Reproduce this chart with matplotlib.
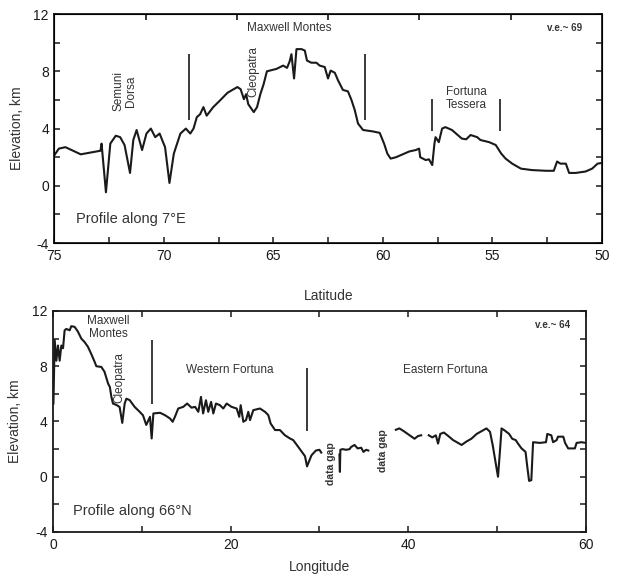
import numpy as np
import matplotlib.pyplot as plt
from matplotlib.ticker import MultipleLocator

plt.rcParams['font.family'] = ['Liberation Sans', 'DejaVu Sans']
plt.rcParams['axes.unicode_minus'] = False

# Profile along 7 E (latitude, elevation in km)
lat_7e = [75.0, 74.8, 74.5, 73.8, 72.9, 72.85, 72.65, 72.45, 72.2, 72.0, 71.8, 71.55,
          71.4, 71.25, 71.0, 70.8, 70.6, 70.4, 70.2, 69.95, 69.75, 69.55, 69.25, 69.0,
          68.8, 68.65, 68.5, 68.35, 68.2, 68.05, 67.75, 67.45, 67.1, 66.65, 66.5, 66.35,
          66.25, 66.15, 65.9, 65.75, 65.6, 65.45, 65.3, 65.17, 64.86, 64.56, 64.38, 64.26,
          64.18, 64.06, 63.95, 63.72, 63.57, 63.47, 63.27, 63.04, 62.89, 62.66, 62.51,
          62.39, 62.2, 62.05, 61.83, 61.6, 61.44, 61.29, 61.14, 60.91, 60.46, 60.15,
          59.95, 59.8, 59.65,
          59.4, 59.1, 58.8, 58.5, 58.35, 58.3, 58.05, 57.9, 57.75, 57.65, 57.6, 57.45,
          57.3, 57.15, 56.85, 56.4, 56.2, 56.0, 55.7, 55.55, 55.15, 54.85, 54.6, 54.4,
          54.1, 53.7, 53.2, 52.55, 52.2, 52.05, 51.9, 51.65, 51.5, 51.2, 50.75, 50.45,
          50.2, 50.0]
elev_7e = [2.15, 2.6, 2.7, 2.2, 2.45, 2.95, -0.45, 2.95, 3.5, 3.4, 2.85, 0.9,
           3.2, 3.9, 2.5, 3.65, 4.0, 3.4, 3.65, 2.7, 0.2, 2.25, 3.65, 4.0,
           3.65, 4.0, 4.8, 5.0, 5.5, 4.9, 5.5, 5.95, 6.5, 6.9, 6.75, 6.05,
           6.4, 5.7, 5.15, 5.5, 6.4, 7.1, 8.0, 8.05, 8.17, 8.4, 8.24, 8.7,
           9.2, 7.5, 9.55, 9.55, 9.45, 8.75, 8.6, 8.6, 8.4, 8.3, 7.5,
           8.05, 7.9, 7.36, 6.7, 6.6, 6.0, 5.3, 4.35, 3.9, 3.8, 3.7,
           2.95, 2.25, 1.9,
           2.0, 2.2, 2.4, 2.5, 2.6, 2.0, 1.8, 1.85, 1.45, 2.95, 3.4, 3.05,
           4.0, 4.1, 3.9, 3.3, 3.25, 3.55, 3.4, 3.2, 3.05, 2.85, 2.25, 1.9,
           1.55, 1.2, 1.1, 1.05, 1.05, 1.7, 1.55, 1.55, 0.9, 0.9, 1.0, 1.2,
           1.55, 1.6]

# Profile along 66 N (longitude, elevation in km), split by data gaps
lon_w = [0.05, 0.19, 0.38, 0.56, 0.75, 0.94, 1.13, 1.31, 1.5, 1.88, 2.06, 2.44, 2.81,
         3.19, 3.56, 3.94, 4.3, 4.7, 4.88, 5.44, 5.8, 6.2, 6.4, 6.57, 6.75, 7.13, 7.5,
         7.8, 8.07, 8.26, 8.63, 9.2, 9.76, 10.13, 10.5, 10.92, 11.11, 11.3, 12.05,
         12.6, 13.17, 13.47, 13.73, 14.1, 14.67, 15.1, 15.6, 16.0, 16.36, 16.66, 16.9,
         17.22, 17.48, 17.8, 18.05, 18.35, 18.8, 19.17, 19.55, 20.1, 20.68, 20.97,
         21.13, 21.43, 21.73, 21.99, 22.18, 22.55, 23.3, 23.87, 24.24, 24.5, 25.0,
         25.55, 26.1, 26.68, 27.05, 27.6, 28.37, 28.6, 29.1, 29.6, 30.0, 30.2]
elev_w = [5.3, 9.9, 8.4, 9.5, 8.4, 9.5, 9.3, 10.6, 10.7, 10.6, 10.9, 10.85, 10.5,
          10.0, 9.75, 9.4, 8.9, 8.3, 8.0, 7.95, 7.6, 6.75, 6.5, 5.8, 5.3, 5.2, 5.05,
          3.9, 5.3, 5.65, 5.55, 5.05, 4.7, 4.45, 3.75, 4.34, 2.77, 4.58, 4.63,
          4.46, 4.22, 3.98, 4.34, 4.94, 5.06, 5.3, 5.0, 5.06, 4.7, 5.78, 4.58,
          5.54, 4.7, 5.42, 4.58, 5.3, 5.18, 4.94, 5.3, 5.06, 4.94, 4.34,
          5.18, 3.98, 4.1, 4.7, 4.1, 4.82, 4.94, 4.7, 4.46, 3.86, 3.38,
          3.38, 3.01, 2.77, 2.65, 2.17, 1.49, 0.75, 1.55, 1.9, 1.95, 1.75]
lon_m = [32.25, 32.3, 32.35, 32.6, 33.0, 33.4, 33.55, 33.95, 34.3, 34.7, 34.95, 35.25, 35.5]
elev_m = [1.6, 0.35, 1.95, 2.0, 1.95, 2.0, 2.15, 2.3, 2.05, 2.1, 1.8, 1.95, 1.9]
lon_e1 = [38.6, 39.0, 39.6, 40.15, 40.7, 41.1, 41.45]
elev_e1 = [3.4, 3.5, 3.25, 3.0, 2.75, 2.95, 3.0]
lon_e2 = [42.3, 42.7, 43.1, 43.35, 43.6, 44.0, 44.5, 45.05, 45.6, 46.0, 46.55, 47.1,
          47.7, 48.25, 48.8, 49.2, 49.5, 49.85, 50.1, 50.3, 50.5, 50.85, 51.35, 51.7,
          52.1, 52.35, 52.75, 53.2, 53.4, 53.6, 53.85, 54.05, 54.8, 55.5, 55.65, 56.1,
          56.3, 56.7, 56.85, 57.45, 57.65, 58.0, 58.75, 58.95, 59.5, 60.0]
elev_e2 = [3.0, 2.85, 3.0, 2.4, 3.1, 3.2, 2.95, 2.65, 2.45, 2.3, 2.55, 2.75,
           3.1, 3.3, 3.5, 3.25, 2.3, 0.95, 0.0, 1.7, 3.5, 3.35, 3.1, 2.75,
           2.65, 2.4, 2.05, 1.8, 0.7, -0.3, -0.25, 2.5, 2.45, 2.5, 3.1, 3.0,
           2.5, 2.65, 2.9, 2.9, 2.45, 2.05, 2.05, 2.45, 2.5, 2.45]

# boundary markers: x, bottom, top
bar_lat = [68.85, 60.8, 57.78, 54.67]
bar_lat_lo = [4.6, 4.6, 3.8, 3.8]
bar_lat_hi = [9.2, 9.2, 6.1, 6.1]
bar_lon = [11.15, 28.6]
bar_lon_lo = [5.3, 3.3]
bar_lon_hi = [9.9, 7.9]

ink = '#1a1a1a'
txt = '#333333'

fig = plt.figure(figsize=(6.19, 5.76), dpi=100)
ax1 = fig.add_axes([0.088, 0.578, 0.8845, 0.3976])
ax2 = fig.add_axes([0.0856, 0.0764, 0.861, 0.3837])


def style(ax):
    for s in ax.spines.values():
        s.set_linewidth(1.3)
        s.set_color(ink)
    ax.tick_params(which='both', direction='in', length=4, width=1.1,
                   right=True, labelsize=10, colors=ink, pad=4)
    ax.set_ylim(-4, 12)
    ax.yaxis.set_major_locator(MultipleLocator(4))
    ax.yaxis.set_minor_locator(MultipleLocator(2))
    ax.set_ylabel('Elevation, km', fontsize=10, color=txt, labelpad=7)


# top panel
ax1.plot(lat_7e, elev_7e, color=ink, lw=1.5)
ax1.vlines(bar_lat, bar_lat_lo, bar_lat_hi, color='#3a3a3a', lw=1.4)
style(ax1)
ax1.set_xlim(75, 50)
ax1.xaxis.set_major_locator(MultipleLocator(5))
ax1.xaxis.set_minor_locator(MultipleLocator(2.5))
ax1.set_xlabel('Latitude', fontsize=10, color=txt, labelpad=19)
top1 = ax1.twiny()
top1.set_xlim(75, 50)
top1.set_xticks(75 - np.arange(1, 6) * 25 / 6)
top1.tick_params(direction='in', length=4, width=1.1, labeltop=False)

ax1.text(71.8, 6.6, 'Semuni\nDorsa', rotation=90, ha='center', va='center',
         fontsize=8.5, color=txt, linespacing=1.1)
ax1.text(65.9, 8.0, 'Cleopatra', rotation=90, ha='center', va='center',
         fontsize=8.5, color=txt)
ax1.text(64.3, 11.0, 'Maxwell Montes', ha='center', va='center', fontsize=8.5, color=txt)
ax1.text(56.2, 6.1, 'Fortuna\nTessera', ha='center', va='center', fontsize=8.5,
         color=txt, linespacing=1.2)
ax1.text(51.7, 11.0, 'v.e.~ 69', ha='center', va='center', fontsize=7,
         fontweight='bold', color=txt)
ax1.text(74.0, -2.35, 'Profile along 7°E', ha='left', va='center', fontsize=10.5, color=txt)

# bottom panel
for xs, ys in [(lon_w, elev_w), (lon_m, elev_m), (lon_e1, elev_e1), (lon_e2, elev_e2)]:
    ax2.plot(xs, ys, color=ink, lw=1.5)
ax2.vlines(bar_lon, bar_lon_lo, bar_lon_hi, color='#3a3a3a', lw=1.4)
style(ax2)
ax2.set_xlim(0, 60)
ax2.xaxis.set_major_locator(MultipleLocator(20))
ax2.xaxis.set_minor_locator(MultipleLocator(10))
ax2.tick_params(which='both', top=True)
ax2.set_xlabel('Longitude', fontsize=10, color=txt, labelpad=6)

ax2.text(6.2, 10.8, 'Maxwell\nMontes', ha='center', va='center', fontsize=8.5,
         color=txt, linespacing=1.2)
ax2.text(7.5, 7.2, 'Cleopatra', rotation=90, ha='center', va='center',
         fontsize=8.5, color=txt)
ax2.text(19.85, 7.75, 'Western Fortuna', ha='center', va='center', fontsize=8.5, color=txt)
ax2.text(44.2, 7.75, 'Eastern Fortuna', ha='center', va='center', fontsize=8.5, color=txt)
ax2.text(56.2, 11.0, 'v.e.~ 64', ha='center', va='center', fontsize=7,
         fontweight='bold', color=txt)
ax2.text(31.3, 0.95, 'data gap', rotation=90, ha='center', va='center', fontsize=7.5,
         fontweight='bold', color=txt)
ax2.text(37.1, 1.9, 'data gap', rotation=90, ha='center', va='center', fontsize=7.5,
         fontweight='bold', color=txt)
ax2.text(2.3, -2.5, 'Profile along 66°N', ha='left', va='center', fontsize=10.5, color=txt)

fig.savefig('out.png', dpi=100)
